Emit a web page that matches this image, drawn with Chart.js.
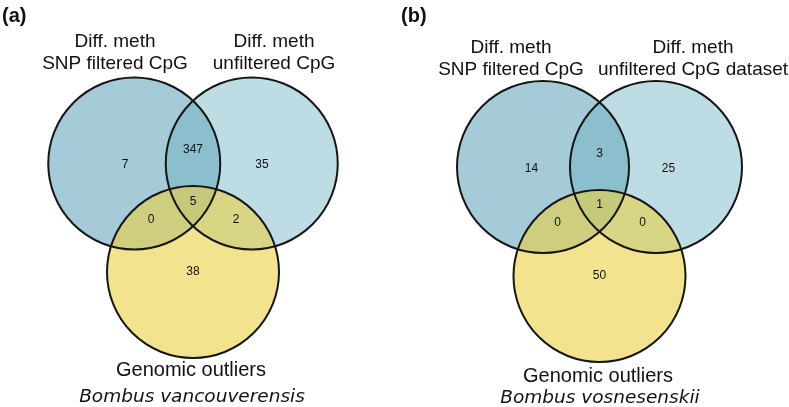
<!DOCTYPE html>
<html><head><meta charset="utf-8">
<script src="https://cdn.jsdelivr.net/npm/chart.js@4/dist/chart.umd.min.js"></script>
<style>html,body{margin:0;padding:0;background:#fff;overflow:hidden}#wrap{width:789px;height:407px;position:relative}</style>
</head><body><div id="wrap"><canvas id="c"></canvas></div>
<script>
// ---- data ----
const panelLetters = ['(a)', '(b)'];
const setNamesA = [['Diff. meth', 'SNP filtered CpG'], ['Diff. meth', 'unfiltered CpG'], ['Genomic outliers']];
const setNamesB = [['Diff. meth', 'SNP filtered CpG'], ['Diff. meth', 'unfiltered CpG dataset'], ['Genomic outliers']];
// regions: A only, B only, C only, A&B, A&C, B&C, A&B&C
const countsA = [7, 35, 38, 347, 0, 2, 5];
const countsB = [14, 25, 50, 3, 0, 0, 1];
const speciesNames = ['Bombus vancouverensis', 'Bombus vosnesenskii'];

// ---- layout (geometry only, canvas units) ----
const panelLayout = [
  {cx: 193, cy: 163.5, d: 117.5, h: 108.5, r: 86, letterX: 2, letterY: 16, topY: [41.7, 64], leftX: 115, rightX: 274, genX: 191, genY: 370, spX: 192, spY: 397},
  {cx: 599.5, cy: 167, d: 113, h: 109, r: 86, letterX: 401, letterY: 16, topY: [47.7, 70], leftX: 511, rightX: 693, genX: 598, genY: 376, spX: 600, spY: 398}
];
const regionOffsets = [[-68, 1.5], [69, 1.5], [0, 108.5], [0, -13.5], [-42, 56], [43, 56], [0, 38]];
const circleFills = ['#a5cad8', 'rgba(109,178,193,0.45)', 'rgba(235,208,68,0.6)'];

const panelsData = [
  {names: setNamesA, counts: countsA, species: speciesNames[0], letter: panelLetters[0]},
  {names: setNamesB, counts: countsB, species: speciesNames[1], letter: panelLetters[1]}
];

const circlePoints = [];
const circleColors = [];
panelLayout.forEach(p => {
  circlePoints.push({x: p.cx - p.d / 2, y: p.cy, r: p.r});
  circlePoints.push({x: p.cx + p.d / 2, y: p.cy, r: p.r});
  circlePoints.push({x: p.cx, y: p.cy + p.h, r: p.r});
  circleColors.push(...circleFills);
});

const textPlugin = {
  id: 'vennText',
  afterDatasetsDraw(chart) {
    const ctx = chart.ctx, xs = chart.scales.x, ys = chart.scales.y;
    const X = v => xs.getPixelForValue(v), Y = v => ys.getPixelForValue(v);
    ctx.save();
    ctx.fillStyle = '#111';
    ctx.textBaseline = 'middle';
    panelsData.forEach((pd, i) => {
      const L = panelLayout[i];
      ctx.textAlign = 'left';
      ctx.font = 'bold 20px "Liberation Sans", Arial, sans-serif';
      ctx.fillText(pd.letter, X(L.letterX), Y(L.letterY));
      ctx.textAlign = 'center';
      ctx.font = '19px "Liberation Sans", Arial, sans-serif';
      pd.names[0].forEach((t, k) => ctx.fillText(t, X(L.leftX), Y(L.topY[k])));
      pd.names[1].forEach((t, k) => ctx.fillText(t, X(L.rightX), Y(L.topY[k])));
      ctx.font = '20px "Liberation Sans", Arial, sans-serif';
      ctx.fillText(pd.names[2][0], X(L.genX), Y(L.genY));
      ctx.font = 'oblique 18.5px "DejaVu Sans", sans-serif';
      ctx.fillText(pd.species, X(L.spX), Y(L.spY));
      ctx.font = '12px "Liberation Sans", Arial, sans-serif';
      pd.counts.forEach((c, k) => {
        ctx.fillText(String(c), X(L.cx + regionOffsets[k][0]), Y(L.cy + regionOffsets[k][1]));
      });
    });
    ctx.restore();
  }
};

new Chart(document.getElementById('c'), {
  type: 'bubble',
  data: {
    datasets: [
      {label: 'fills', data: circlePoints, backgroundColor: circleColors, borderWidth: 0, order: 2, clip: false},
      {label: 'outlines', data: circlePoints, backgroundColor: 'rgba(0,0,0,0)', borderColor: '#151515', borderWidth: 2, order: 1, clip: false}
    ]
  },
  options: {
    responsive: true,
    maintainAspectRatio: false,
    animation: false,
    events: [],
    layout: {padding: 0, autoPadding: false},
    plugins: {legend: {display: false}, tooltip: {enabled: false}},
    scales: {
      x: {type: 'linear', min: 0, max: 789, display: false},
      y: {type: 'linear', min: 0, max: 407, reverse: true, display: false}
    }
  },
  plugins: [textPlugin]
});
</script>
</body></html>
